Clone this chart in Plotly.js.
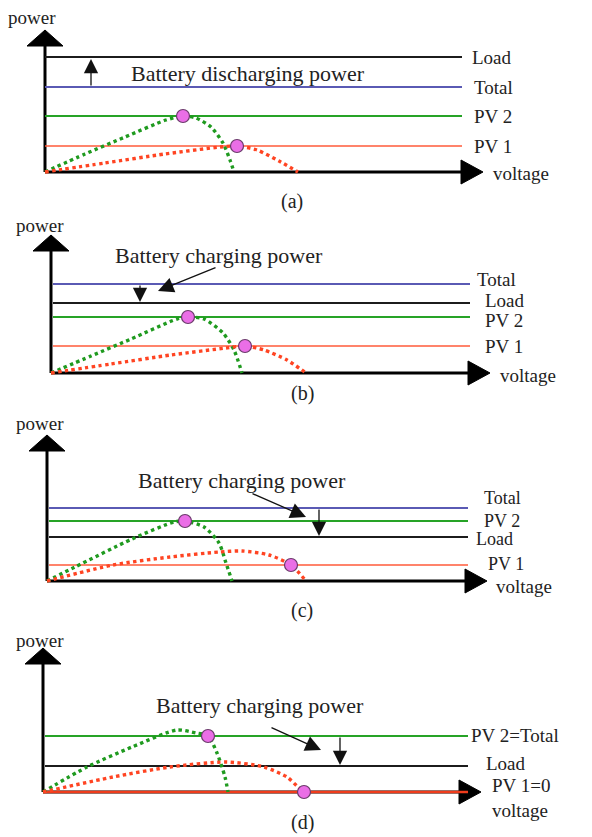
<!DOCTYPE html>
<html><head><meta charset="utf-8">
<script src="https://cdn.plot.ly/plotly-3.0.1.min.js"></script>
<style>html,body{margin:0;padding:0;background:#fff}</style>
</head><body>
<div id="chart" style="width:592px;height:837px"></div>
<script>
// ================= DATA (schematic power / voltage units) =================
const panelLabels = ['(a)', '(b)', '(c)', '(d)'];

const levelNames_a = ['Load', 'Total', 'PV 2', 'PV 1'];
const levelValues_a = [115, 85, 56, 26];
const levelNames_b = ['Total', 'Load', 'PV 2', 'PV 1'];
const levelValues_b = [89, 70, 56, 27];
const levelNames_c = ['Total', 'PV 2', 'Load', 'PV 1'];
const levelValues_c = [73, 60, 44, 16];
const levelNames_d = ['PV 2=Total', 'Load', 'PV 1=0'];
const levelValues_d = [56, 26, 0];

const pv2Volt_a = [0, 40, 80, 121, 138, 151, 166, 178, 185, 189];
const pv2Pow_a  = [0, 18, 35, 52, 56, 54, 45, 29, 12, 0];
const pv1Volt_a = [0, 60, 120, 175, 192, 212, 234, 253];
const pv1Pow_a  = [0, 9, 18, 25, 26, 22, 11, 0];
const mppVolt_a = [138, 192];
const mppPow_a  = [56, 26];

const pv2Volt_b = [0, 40, 80, 126, 137, 153, 172, 183, 191];
const pv2Pow_b  = [0, 17, 34, 54, 56, 54, 40, 23, 0];
const pv1Volt_b = [0, 60, 120, 175, 194, 213, 236, 255];
const pv1Pow_b  = [0, 9, 18, 25, 27, 23, 13, 0];
const mppVolt_b = [137, 194];
const mppPow_b  = [56, 27];

const pv2Volt_c = [0, 28, 85, 127, 138, 157, 172, 179, 185];
const pv2Pow_c  = [0, 14, 42, 59, 60, 54, 38, 18, 0];
const pv1Volt_c = [0, 66, 123, 172, 195, 222, 244, 259];
const pv1Pow_c  = [0, 16, 24, 29, 30, 26, 16, 0];
const mppVolt_c = [138, 244];
const mppPow_c  = [60, 16];

const pv2Volt_d = [0, 44, 89, 134, 153, 165, 174, 182, 185];
const pv2Pow_d  = [0, 25, 45, 62, 59, 56, 39, 15, 0];
const pv1Volt_d = [0, 70, 127, 183, 221, 244, 255, 261];
const pv1Pow_d  = [0, 15, 25, 30, 25, 15, 5, 0];
const mppVolt_d = [165, 261];
const mppPow_d  = [56, 0];

const batteryText = ['Battery discharging power', 'Battery charging power', 'Battery charging power', 'Battery charging power'];

// ================= LAYOUT / STYLE (pixels) =================
const W = 592, H = 837;
const originPx = [[45, 172], [51, 373], [47, 581], [43, 792]];
const lineStart = [0, 2, 2, 2];
const lineEnd = [417, 419, 421, 425];
const xTip = [438, 439, 440, 438];
const yTip = [142, 138, 146, 144];
const powerLabelPx = [[6, 17], [14, 225], [14, 423], [14, 640]];
const captionPx = [[292, 201], [302, 393], [302, 610], [302, 822]];
const batteryTextPx = [[248, 73], [219, 255], [242, 480], [260, 705]];
const pointerPx = [null, [[217, 267], [158, 291]], [[251, 493], [306, 517]], [[270, 727], [321, 750]]];
const vArrowPx = [91, 140, 319, 340];
const labelDx = [[8, 10, 10, 10], [5, 13, 13, 13], [14, 14, 6, 18], [1, 16, 22]];
const labelDy = [[0, 0, 0, 0], [5, 3, -3, 0], [10, 0, -2, 1], [1, 3, 7]];
const labelSize = [19, 19, 18, 19];
const voltLabelDy = [-1, -2, -5, -18];
const voltLabelDx = [8, 8, 7, 9];

const colorOf = {
  'Load': '#1c1c1c', 'Total': '#5a5ab4', 'PV 2': '#26a326', 'PV 1': '#ff5a3a',
  'PV 2=Total': '#26a326', 'PV 1=0': '#f03c1c'
};
const widthOf = {
  'Load': 2, 'Total': 2, 'PV 2': 2, 'PV 1': 1.6, 'PV 2=Total': 2, 'PV 1=0': 2.4
};
const FONT = 'Liberation Serif, Times New Roman, serif';
const TXT = '#222222';

const panels = [
  {names: levelNames_a, vals: levelValues_a, g: [pv2Volt_a, pv2Pow_a], r: [pv1Volt_a, pv1Pow_a], m: [mppVolt_a, mppPow_a]},
  {names: levelNames_b, vals: levelValues_b, g: [pv2Volt_b, pv2Pow_b], r: [pv1Volt_b, pv1Pow_b], m: [mppVolt_b, mppPow_b]},
  {names: levelNames_c, vals: levelValues_c, g: [pv2Volt_c, pv2Pow_c], r: [pv1Volt_c, pv1Pow_c], m: [mppVolt_c, mppPow_c]},
  {names: levelNames_d, vals: levelValues_d, g: [pv2Volt_d, pv2Pow_d], r: [pv1Volt_d, pv1Pow_d], m: [mppVolt_d, mppPow_d]}
];

const traces = [], shapes = [], annotations = [];
const layout = {
  width: W, height: H, margin: {l: 0, r: 0, t: 0, b: 0},
  paper_bgcolor: '#ffffff', plot_bgcolor: 'rgba(0,0,0,0)', showlegend: false
};

panels.forEach((p, i) => {
  const k = i === 0 ? '' : String(i + 1);
  const xr = 'x' + k, yr = 'y' + k;
  const [ox, oy] = originPx[i];
  const rx = px => px - ox, ry = py => oy - py;
  layout['xaxis' + k] = {domain: [0, 1], range: [-ox, W - ox], visible: false, fixedrange: true, anchor: yr};
  layout['yaxis' + k] = {domain: [0, 1], range: [oy - H, oy], visible: false, fixedrange: true, anchor: xr};

  // axes with arrowheads
  shapes.push({type: 'line', xref: xr, yref: yr, x0: 0, y0: 0, x1: 0, y1: yTip[i] - 14, line: {color: '#000', width: 3}, layer: 'below'});
  shapes.push({type: 'line', xref: xr, yref: yr, x0: 0, y0: 0, x1: xTip[i] - 20, y1: 0, line: {color: '#000', width: 3}, layer: 'below'});
  shapes.push({type: 'path', xref: xr, yref: yr, layer: 'below',
    path: `M -18 ${yTip[i] - 16} L 0 ${yTip[i]} L 18 ${yTip[i] - 16} Z`, fillcolor: '#000', line: {color: '#000', width: 1}});
  shapes.push({type: 'path', xref: xr, yref: yr, layer: 'below',
    path: `M ${xTip[i] - 22} -12 L ${xTip[i]} 0 L ${xTip[i] - 22} 12 Z`, fillcolor: '#000', line: {color: '#000', width: 1}});

  // level lines + labels
  p.names.forEach((nm, j) => {
    traces.push({type: 'scatter', mode: 'lines', xaxis: xr, yaxis: yr,
      x: [lineStart[i], lineEnd[i]], y: [p.vals[j], p.vals[j]],
      line: {color: colorOf[nm], width: widthOf[nm]}, hoverinfo: 'skip'});
    annotations.push({xref: xr, yref: yr, x: lineEnd[i] + labelDx[i][j], y: p.vals[j] + labelDy[i][j],
      text: nm, showarrow: false, xanchor: 'left', yanchor: 'middle',
      font: {family: FONT, size: labelSize[i], color: TXT}});
  });

  // PV curves (dotted)
  traces.push({type: 'scatter', mode: 'lines', xaxis: xr, yaxis: yr, x: p.g[0], y: p.g[1],
    line: {color: '#1f9a1f', width: 3.4, dash: 'dot', shape: 'spline', smoothing: 0.7}, hoverinfo: 'skip'});
  traces.push({type: 'scatter', mode: 'lines', xaxis: xr, yaxis: yr, x: p.r[0], y: p.r[1],
    line: {color: '#ff4422', width: 3.4, dash: 'dot', shape: 'spline', smoothing: 0.7}, hoverinfo: 'skip'});
  // operating points
  traces.push({type: 'scatter', mode: 'markers', xaxis: xr, yaxis: yr, x: p.m[0], y: p.m[1],
    marker: {size: 13, color: '#ea6ee6', line: {color: '#6a3a6a', width: 1.2}}, hoverinfo: 'skip'});

  // texts
  annotations.push({xref: xr, yref: yr, x: rx(powerLabelPx[i][0]), y: ry(powerLabelPx[i][1]), text: 'power',
    showarrow: false, xanchor: 'left', yanchor: 'middle', font: {family: FONT, size: 19, color: TXT}});
  annotations.push({xref: xr, yref: yr, x: xTip[i] + voltLabelDx[i], y: voltLabelDy[i], text: 'voltage',
    showarrow: false, xanchor: 'left', yanchor: 'middle', font: {family: FONT, size: 19, color: TXT}});
  annotations.push({xref: xr, yref: yr, x: rx(captionPx[i][0]), y: ry(captionPx[i][1]), text: panelLabels[i],
    showarrow: false, xanchor: 'center', yanchor: 'middle', font: {family: FONT, size: 20, color: TXT}});
  annotations.push({xref: xr, yref: yr, x: rx(batteryTextPx[i][0]), y: ry(batteryTextPx[i][1]), text: batteryText[i],
    showarrow: false, xanchor: 'center', yanchor: 'middle', font: {family: FONT, size: 22, color: TXT}});

  // battery power arrow (between Total/PV2 level and Load level)
  const loadV = p.vals[p.names.indexOf('Load')];
  const srcName = p.names.indexOf('Total') >= 0 ? 'Total' : 'PV 2=Total';
  const srcV = p.vals[p.names.indexOf(srcName)];
  annotations.push({xref: xr, yref: yr, axref: xr, ayref: yr, x: rx(vArrowPx[i]), y: loadV + (loadV > srcV ? -2 : 1),
    ax: rx(vArrowPx[i]), ay: srcV, text: '', showarrow: true, arrowhead: 2, arrowsize: 2.2, arrowwidth: 1.3, arrowcolor: '#111'});
  if (pointerPx[i]) {
    const [t, h] = pointerPx[i];
    annotations.push({xref: xr, yref: yr, axref: xr, ayref: yr, x: rx(h[0]), y: ry(h[1]), ax: rx(t[0]), ay: ry(t[1]),
      text: '', showarrow: true, arrowhead: 2, arrowsize: 2.4, arrowwidth: 1.3, arrowcolor: '#111'});
  }
});

layout.shapes = shapes;
layout.annotations = annotations;
Plotly.newPlot('chart', traces, layout, {displayModeBar: false, staticPlot: true});
</script>
</body></html>
